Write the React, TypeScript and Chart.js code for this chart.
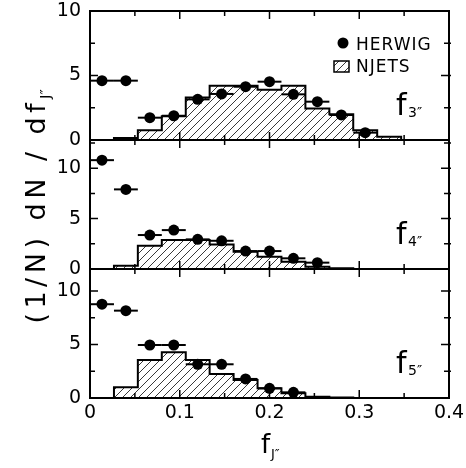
import { useEffect, useRef } from 'react';
import { Chart, registerables } from 'chart.js';

Chart.register(...registerables);

const FONT = "'DejaVu Sans', 'Liberation Sans', sans-serif";

// f_J'' bin edges: 15 equal bins between 0 and 0.4
const binEdges = [
  0, 0.0267, 0.0533, 0.08, 0.1067, 0.1333, 0.16, 0.1867, 0.2133, 0.24, 0.2667, 0.2933,
  0.32, 0.3467, 0.3733, 0.4,
];

// NJETS histograms (one value per bin)
const njetsF3 = [0, 0.15, 0.75, 1.85, 3.3, 4.2, 4.2, 3.9, 4.2, 2.45, 2.0, 0.75, 0.25, 0, 0];
const njetsF4 = [0, 0.33, 2.3, 2.87, 2.87, 2.44, 1.72, 1.22, 0.72, 0.23, 0.08, 0, 0, 0, 0];
const njetsF5 = [0, 1.0, 3.55, 4.27, 3.55, 2.24, 1.68, 0.9, 0.44, 0.12, 0.05, 0, 0, 0, 0];

// HERWIG points (one value per bin, starting at the first bin)
const herwigF3 = [4.6, 4.6, 1.73, 1.88, 3.15, 3.57, 4.13, 4.52, 3.54, 2.97, 1.94, 0.57];
const herwigF4 = [10.8, 7.9, 3.37, 3.86, 2.94, 2.8, 1.78, 1.78, 1.06, 0.63];
const herwigF5 = [8.76, 8.16, 4.95, 4.95, 3.15, 3.15, 1.78, 0.9, 0.53];

// axis ticks
const xTicks = [0, 0.1, 0.2, 0.3, 0.4];
const yTicks = [0, 5, 10];
const xMajorMarks = [0.1, 0.2, 0.3];
const xMinorMarks = [0.05, 0.15, 0.25, 0.35];
const yMajorMarks = [5, 10];
const yMinorMarks = [2.5, 7.5, 12.5];

const panels = [
  { id: 'yA', sub: '3', max: 10, herwig: herwigF3, njets: njetsF3 },
  { id: 'yB', sub: '4', max: 12.8, herwig: herwigF4, njets: njetsF4 },
  { id: 'yC', sub: '5', max: 12.05, herwig: herwigF5, njets: njetsF5 },
];

function makeHatch(target: CanvasRenderingContext2D): CanvasPattern {
  const s = 8;
  const c = document.createElement('canvas');
  c.width = s;
  c.height = s;
  const g = c.getContext('2d') as CanvasRenderingContext2D;
  g.strokeStyle = '#222';
  g.lineWidth = 0.9;
  g.beginPath();
  g.moveTo(0, s);
  g.lineTo(s, 0);
  g.moveTo(-s / 2, s / 2);
  g.lineTo(s / 2, -s / 2);
  g.moveTo(s / 2, s * 1.5);
  g.lineTo(s * 1.5, s / 2);
  g.stroke();
  return target.createPattern(c, 'repeat') as CanvasPattern;
}

export default function App() {
  const canvasRef = useRef<HTMLCanvasElement | null>(null);

  useEffect(() => {
    const canvas = canvasRef.current;
    if (!canvas) return;
    const ctx0 = canvas.getContext('2d') as CanvasRenderingContext2D;
    const hatch = makeHatch(ctx0);

    const datasets: any[] = [];
    panels.forEach((p) => {
      datasets.push({
        type: 'scatter',
        label: 'HERWIG',
        yAxisID: p.id,
        data: p.herwig.map((y, i) => ({ x: (binEdges[i] + binEdges[i + 1]) / 2, y })),
        pointRadius: 5.5,
        pointHoverRadius: 5.5,
        backgroundColor: '#000',
        borderWidth: 0,
        showLine: false,
        order: 0,
      });
    });
    panels.forEach((p) => {
      datasets.push({
        type: 'line',
        label: 'NJETS',
        yAxisID: p.id,
        data: binEdges.map((x, i) => ({ x, y: p.njets[Math.min(i, p.njets.length - 1)] })),
        stepped: 'before',
        fill: 'origin',
        backgroundColor: hatch,
        borderColor: '#000',
        borderWidth: 2,
        pointRadius: 0,
        order: 1,
      });
    });

    const yScale = (p: (typeof panels)[number], idx: number) => ({
      type: 'linear',
      position: 'left',
      stack: 'panels',
      stackWeight: 1,
      weight: 3 - idx,
      min: 0,
      max: p.max,
      grid: { display: false, drawTicks: false },
      border: { display: false },
      ticks: {
        font: { family: FONT, size: 19 },
        color: '#000',
        padding: 9,
        autoSkip: false,
        callback: (v: number) => String(v),
      },
      afterBuildTicks: (s: any) => {
        s.ticks = yTicks.map((value) => ({ value }));
      },
      afterFit: (s: any) => {
        s.width = 90;
        s.paddingTop = 0;
        s.paddingBottom = 0;
      },
    });

    const scales: any = {
      x: {
        type: 'linear',
        position: 'bottom',
        min: 0,
        max: 0.4,
        grid: { display: false, drawTicks: false },
        border: { display: false },
        ticks: {
          font: { family: FONT, size: 19 },
          color: '#000',
          padding: 4,
          maxRotation: 0,
          autoSkip: false,
          callback: (v: number) => String(v),
        },
        afterBuildTicks: (s: any) => {
          s.ticks = xTicks.map((value) => ({ value }));
        },
        afterFit: (s: any) => {
          s.height = 70;
          s.paddingLeft = 0;
          s.paddingRight = 0;
        },
      },
    };
    panels.forEach((p, i) => {
      scales[p.id] = yScale(p, i);
    });

    const decor = {
      id: 'decor',
      afterDatasetsDraw(chart: any) {
        const ctx = chart.ctx as CanvasRenderingContext2D;
        const xs = chart.scales.x;
        ctx.save();
        ctx.strokeStyle = '#000';
        ctx.lineWidth = 2;
        panels.forEach((p) => {
          const ys = chart.scales[p.id];
          p.herwig.forEach((v, i) => {
            const y = ys.getPixelForValue(v);
            ctx.beginPath();
            ctx.moveTo(xs.getPixelForValue(binEdges[i]), y);
            ctx.lineTo(xs.getPixelForValue(binEdges[i + 1]), y);
            ctx.stroke();
          });
        });
        ctx.restore();
      },
      afterDraw(chart: any) {
        const ctx = chart.ctx as CanvasRenderingContext2D;
        const area = chart.chartArea;
        const xs = chart.scales.x;
        const left = area.left;
        const right = area.right;
        ctx.save();
        ctx.strokeStyle = '#000';
        ctx.fillStyle = '#000';

        panels.forEach((p) => {
          const ys = chart.scales[p.id];
          const top = ys.top;
          const bottom = ys.bottom;
          ctx.lineWidth = 1.5;
          const xMark = (v: number, len: number) => {
            const px = xs.getPixelForValue(v);
            ctx.beginPath();
            ctx.moveTo(px, top);
            ctx.lineTo(px, top + len);
            ctx.moveTo(px, bottom);
            ctx.lineTo(px, bottom - len);
            ctx.stroke();
          };
          const yMark = (v: number, len: number) => {
            if (v >= p.max) return;
            const py = ys.getPixelForValue(v);
            ctx.beginPath();
            ctx.moveTo(left, py);
            ctx.lineTo(left + len, py);
            ctx.moveTo(right + 2, py);
            ctx.lineTo(right - len, py);
            ctx.stroke();
          };
          xMajorMarks.forEach((v) => xMark(v, 8));
          xMinorMarks.forEach((v) => xMark(v, 5));
          yMajorMarks.forEach((v) => yMark(v, 8));
          yMinorMarks.forEach((v) => yMark(v, 5));

          ctx.lineWidth = 2;
          ctx.strokeRect(left, top, right - left, bottom - top);

          // panel label f_n''
          ctx.textAlign = 'left';
          ctx.textBaseline = 'alphabetic';
          ctx.font = `30px ${FONT}`;
          ctx.fillText('f', right - 53, bottom - 25);
          ctx.font = `14px ${FONT}`;
          ctx.fillText(p.sub + '\u2033', right - 41, bottom - 23);
        });

        // legend
        const topA = chart.scales.yA.top;
        ctx.beginPath();
        ctx.arc(343, topA + 32, 5.5, 0, Math.PI * 2);
        ctx.fill();
        ctx.font = `17px ${FONT}`;
        ctx.textAlign = 'left';
        ctx.textBaseline = 'alphabetic';
        (ctx as any).letterSpacing = '1px';
        ctx.fillText('HERWIG', 356, topA + 39);
        ctx.fillText('NJETS', 356, topA + 61);
        (ctx as any).letterSpacing = '0px';
        ctx.fillStyle = hatch;
        ctx.fillRect(334, topA + 50, 15, 11);
        ctx.lineWidth = 1.5;
        ctx.strokeRect(334, topA + 50, 15, 11);
        ctx.fillStyle = '#000';

        // x-axis title f_J''
        ctx.font = `26px ${FONT}`;
        ctx.fillText('f', 261, 453);
        ctx.font = `13px ${FONT}`;
        ctx.fillText('J\u2033', 271, 458);

        // y-axis title (1/N) dN / df_J''
        ctx.translate(45, (area.top + area.bottom) / 2 + 2);
        ctx.rotate(-Math.PI / 2);
        ctx.font = `27px ${FONT}`;
        (ctx as any).letterSpacing = '4.5px';
        const main = '(1/N) dN / df';
        const wMain = ctx.measureText(main).width;
        ctx.font = `14px ${FONT}`;
        (ctx as any).letterSpacing = '0px';
        const subTxt = 'J\u2033';
        const wSub = ctx.measureText(subTxt).width;
        const x0 = -(wMain + wSub) / 2;
        ctx.font = `27px ${FONT}`;
        (ctx as any).letterSpacing = '4.5px';
        ctx.fillText(main, x0, 0);
        ctx.font = `14px ${FONT}`;
        (ctx as any).letterSpacing = '0px';
        ctx.fillText(subTxt, x0 + wMain, 5);
        ctx.restore();
      },
    };

    const chart = new Chart(canvas, {
      type: 'scatter',
      data: { datasets },
      options: {
        responsive: false,
        devicePixelRatio: 1,
        animation: false,
        layout: { padding: { left: 0, top: 11, right: 17, bottom: 0 } },
        plugins: {
          legend: { display: false },
          tooltip: { enabled: false },
          title: { display: false },
        },
        events: [],
        scales,
      } as any,
      plugins: [decor],
    });

    return () => chart.destroy();
  }, []);

  return (
    <div
      style={{
        position: 'fixed',
        left: 0,
        top: 0,
        width: 466,
        height: 468,
        background: '#fff',
      }}
    >
      <canvas ref={canvasRef} width={466} height={468} style={{ display: 'block' }} />
    </div>
  );
}
